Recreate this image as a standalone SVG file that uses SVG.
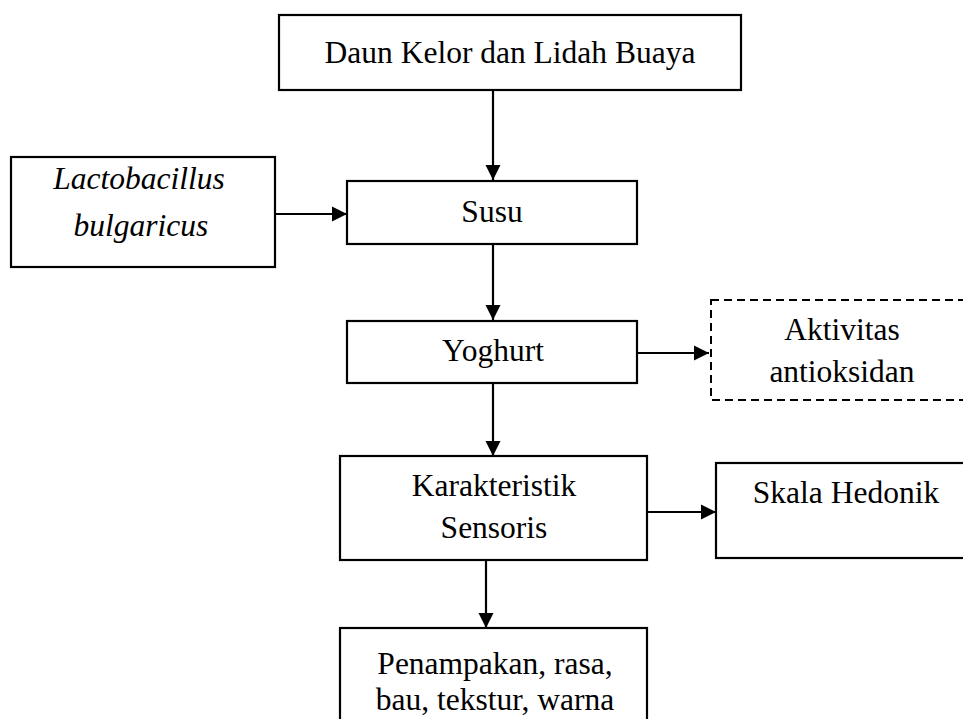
<svg xmlns="http://www.w3.org/2000/svg" width="963" height="719" viewBox="0 0 963 719">
<defs>
<style>
.box{fill:#fff;stroke:#000;stroke-width:2.2}
.dash{fill:#fff;stroke:#000;stroke-width:2;stroke-dasharray:8,5}
.t{font-family:"Liberation Serif","Times New Roman",serif;font-size:31.5px;fill:#000;text-anchor:middle}
.i{font-style:italic}
.c{stroke:#000;stroke-width:2.2;fill:none}
</style>
<marker id="ah" viewBox="0 0 10 10" refX="10" refY="5" markerWidth="7" markerHeight="7" markerUnits="strokeWidth" orient="auto">
<path d="M0,0 L10,5 L0,10 z" fill="#000"/>
</marker>
</defs>
<rect width="963" height="719" fill="#fff"/>
<g id="connectors">
<line class="c" x1="493" y1="90" x2="493" y2="180" marker-end="url(#ah)"/>
<line class="c" x1="275" y1="214" x2="347" y2="214" marker-end="url(#ah)"/>
<line class="c" x1="493" y1="244" x2="493" y2="320" marker-end="url(#ah)"/>
<line class="c" x1="637" y1="353" x2="709" y2="353" marker-end="url(#ah)"/>
<line class="c" x1="493" y1="383" x2="493" y2="456" marker-end="url(#ah)"/>
<line class="c" x1="647" y1="512" x2="716" y2="512" marker-end="url(#ah)"/>
<line class="c" x1="486" y1="560" x2="486" y2="628" marker-end="url(#ah)"/>
</g>
<g id="daun">
<rect class="box" x="279" y="15" width="462" height="75"/>
<text class="t" x="510" y="63">Daun Kelor dan Lidah Buaya</text>
</g>
<g id="lacto">
<rect class="box" x="11" y="157" width="264" height="110"/>
<text class="t i" x="139" y="189">Lactobacillus</text>
<text class="t i" x="141" y="236">bulgaricus</text>
</g>
<g id="susu">
<rect class="box" x="347" y="181" width="290" height="63"/>
<text class="t" x="492" y="222">Susu</text>
</g>
<g id="yoghurt">
<rect class="box" x="347" y="321" width="290" height="62"/>
<text class="t" x="493" y="361">Yoghurt</text>
</g>
<g id="aktivitas">
<rect class="dash" x="711" y="300" width="260" height="100"/>
<text class="t" x="842" y="340">Aktivitas</text>
<text class="t" x="842" y="382">antioksidan</text>
</g>
<g id="karakteristik">
<rect class="box" x="340" y="456" width="307" height="104"/>
<text class="t" x="494" y="496">Karakteristik</text>
<text class="t" x="494" y="538">Sensoris</text>
</g>
<g id="skala">
<rect class="box" x="716" y="463" width="260" height="95"/>
<text class="t" x="846" y="503">Skala Hedonik</text>
</g>
<g id="penampakan">
<rect class="box" x="340" y="628" width="307" height="100"/>
<text class="t" x="495" y="674">Penampakan, rasa,</text>
<text class="t" x="495" y="710">bau, tekstur, warna</text>
</g>
</svg>
